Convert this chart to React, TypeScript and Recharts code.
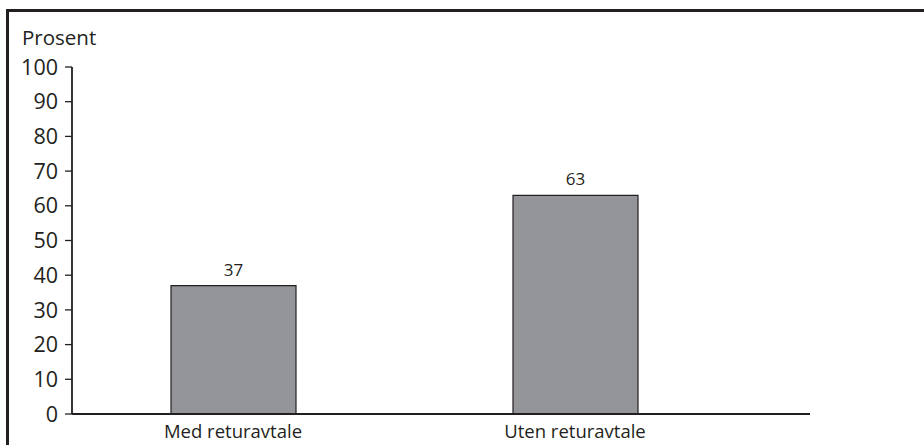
import React from 'react';
import { BarChart, Bar, XAxis, YAxis, LabelList } from 'recharts';

const categories = ['Med returavtale', 'Uten returavtale'];
const values = [37, 63];
const yTicks = [0, 10, 20, 30, 40, 50, 60, 70, 80, 90, 100];

const data = categories.map((name, i) => ({ name, value: values[i] }));

const INK = '#231f20';
const FONT = '"Open Sans", "Noto Sans", sans-serif';

export default function App() {
  return (
    <div style={{ position: 'fixed', left: 0, top: 0, width: 924, height: 445, overflow: 'hidden', background: '#fff', fontFamily: FONT }}>
      {/* outer frame, runs off the right and bottom edge */}
      <div style={{ position: 'absolute', left: 6, top: 9, width: 1000, height: 600, border: `3px solid ${INK}` }} />
      <div style={{ position: 'absolute', left: 22, top: 27, fontSize: 20.5, lineHeight: '20px', color: INK }}>Prosent</div>
      <div style={{ position: 'absolute', left: 0, top: 0 }}>
        <BarChart width={924} height={445} data={data} margin={{ top: 67, right: 114, bottom: 0, left: 0 }}>
          <XAxis
            dataKey="name"
            height={31}
            padding={{ left: -10, right: 64 }}
            tickLine={false}
            tickSize={6}
            tickMargin={5}
            axisLine={{ stroke: INK, strokeWidth: 1.8 }}
            tick={{ fontSize: 18.5, fill: INK, fontFamily: FONT }}
          />
          <XAxis xAxisId="top" orientation="top" dataKey="name" height={0} tick={false} tickLine={false} axisLine={{ stroke: INK, strokeWidth: 1.8 }} />
          <YAxis
            width={72}
            domain={[0, 100]}
            ticks={yTicks}
            interval={0}
            tickSize={7}
            tickMargin={7}
            axisLine={{ stroke: INK, strokeWidth: 1.8 }}
            tickLine={{ stroke: INK, strokeWidth: 1.3 }}
            tick={{ fontSize: 21.5, fill: INK, fontFamily: FONT }}
          />
          <YAxis yAxisId="right" orientation="right" width={0} domain={[0, 100]} tick={false} tickLine={false} axisLine={{ stroke: INK, strokeWidth: 1.8 }} />
          <Bar dataKey="value" barSize={125} fill="#939598" stroke={INK} strokeWidth={1.2} isAnimationActive={false}>
            <LabelList dataKey="value" position="top" offset={10} fill={INK} fontSize={17} fontFamily={FONT} />
          </Bar>
        </BarChart>
      </div>
    </div>
  );
}
